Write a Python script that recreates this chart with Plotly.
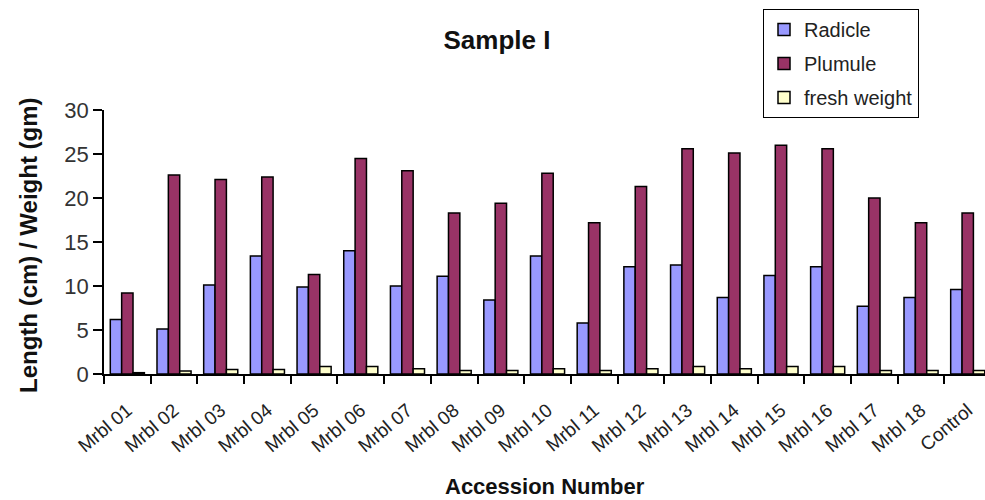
import plotly.graph_objects as go

accessions = ["Mrbl 01", "Mrbl 02", "Mrbl 03", "Mrbl 04", "Mrbl 05", "Mrbl 06",
              "Mrbl 07", "Mrbl 08", "Mrbl 09", "Mrbl 10", "Mrbl 11", "Mrbl 12",
              "Mrbl 13", "Mrbl 14", "Mrbl 15", "Mrbl 16", "Mrbl 17", "Mrbl 18",
              "Control"]

radicle = [6.2, 5.1, 10.1, 13.4, 9.9, 14.0, 10.0, 11.1, 8.4, 13.4, 5.8, 12.2,
           12.4, 8.7, 11.2, 12.2, 7.7, 8.7, 9.6]
plumule = [9.2, 22.6, 22.1, 22.4, 11.3, 24.5, 23.1, 18.3, 19.4, 22.8, 17.2, 21.3,
           25.6, 25.1, 26.0, 25.6, 20.0, 17.2, 18.3]
fresh_weight = [0.15, 0.35, 0.5, 0.5, 0.85, 0.85, 0.6, 0.4, 0.4, 0.6, 0.4, 0.6,
                0.85, 0.6, 0.85, 0.85, 0.4, 0.4, 0.4]

series = [
    ("Radicle", radicle, "#9999FF"),
    ("Plumule", plumule, "#993366"),
    ("fresh weight", fresh_weight, "#FFFFCC"),
]

W, H = 985, 500
L, R, T, B = 104, 0, 110, 126
PW, PH = W - L - R, H - T - B

fig = go.Figure()
for i, (name, vals, color) in enumerate(series):
    fig.add_trace(go.Bar(
        x=accessions, y=vals, name=name, legendgroup=f"g{i}",
        marker=dict(color=color, line=dict(color="black", width=1.5)),
    ))

font_family = "Liberation Sans, Arial, sans-serif"

fig.update_layout(
    width=W, height=H,
    margin=dict(l=L, r=R, t=T, b=B, pad=0),
    paper_bgcolor="white", plot_bgcolor="white",
    barmode="group", bargap=0.27, bargroupgap=0,
    font=dict(family=font_family, color="#222"),
    title=dict(text="<b>Sample I</b>", x=(497 - L) / PW, xref="paper",
               xanchor="center", y=1 - 40 / H, yanchor="middle",
               font=dict(size=26, color="#111", family=font_family)),
    showlegend=True,
    legend=dict(
        x=(763 - L) / PW, xanchor="left",
        y=(H - B - 9) / PH, yanchor="top",
        bordercolor="black", borderwidth=1, bgcolor="white",
        font=dict(size=20, color="#222", family=font_family),
        traceorder="grouped", tracegroupgap=5, itemwidth=30,
    ),
    xaxis=dict(
        type="category", range=[-0.5, 18.37],
        tickson="boundaries", ticks="outside", ticklen=8, tickwidth=2,
        tickcolor="black", showline=True, linecolor="black", linewidth=2,
        tickangle=-40, ticklabelstandoff=16,
        tickfont=dict(size=19, color="#222"),
        showgrid=False,
    ),
    yaxis=dict(
        range=[0, 30], dtick=5, ticks="outside", ticklen=9, tickwidth=1.5,
        tickcolor="black", showline=True, linecolor="black", linewidth=1.5,
        tickfont=dict(size=22, color="#333"), showgrid=False, zeroline=False,
    ),
    annotations=[
        dict(text="<b>Accession Number</b>", xref="paper", yref="paper",
             x=(545 - L) / PW, y=-(486 - (H - B)) / PH,
             xanchor="center", yanchor="middle", showarrow=False,
             font=dict(size=22, color="#111", family=font_family)),
        dict(text="<b>Length (cm) / Weight (gm)</b>", xref="paper", yref="paper",
             x=-(L - 28) / PW, y=(H - B - 245) / PH, textangle=-90,
             xanchor="center", yanchor="middle", showarrow=False,
             font=dict(size=24, color="#111", family=font_family)),
    ],
)

fig.write_html("out.html")
